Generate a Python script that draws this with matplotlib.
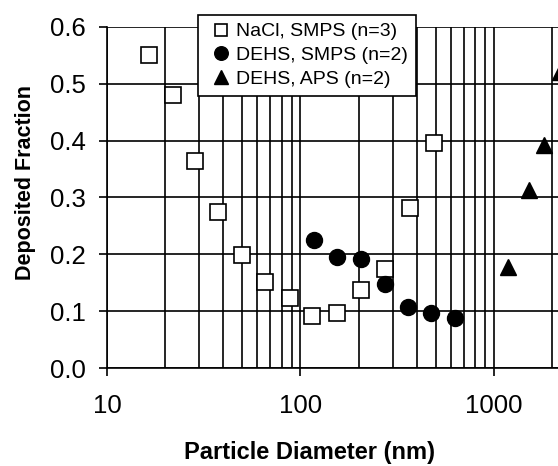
import numpy as np
import matplotlib
matplotlib.use('Agg')
import matplotlib.pyplot as plt
from matplotlib.ticker import FixedLocator, NullFormatter

plt.rcParams['font.family'] = ['Liberation Sans', 'DejaVu Sans']

# NaCl measured with SMPS
nacl_d = [16.5, 22, 28.5, 37.5, 50, 66, 88, 115, 155, 205, 275, 370, 490]
nacl_f = [0.55, 0.48, 0.365, 0.275, 0.198, 0.152, 0.123, 0.091, 0.097, 0.137, 0.175, 0.282, 0.396]

# DEHS measured with SMPS
dehs_smps_d = [118, 155, 205, 275, 360, 473, 630]
dehs_smps_f = [0.226, 0.196, 0.191, 0.148, 0.108, 0.096, 0.088]

# DEHS measured with APS
dehs_aps_d = [1180, 1515, 1830, 2200]
dehs_aps_f = [0.177, 0.314, 0.393, 0.52]

labels = ['NaCl, SMPS (n=3)', 'DEHS, SMPS (n=2)', 'DEHS, APS (n=2)']

fig = plt.figure(figsize=(5.58, 4.66), dpi=100)
ax = fig.add_axes([0.1918, 0.2103, 0.8082, 0.7318])

ax.plot(nacl_d, nacl_f, linestyle='none', marker='s', markersize=11,
        markerfacecolor='white', markeredgecolor='black', markeredgewidth=1.2,
        label=labels[0], zorder=3)
ax.plot(dehs_smps_d, dehs_smps_f, linestyle='none', marker='o', markersize=11.5,
        color='black', label=labels[1], zorder=3)
ax.plot(dehs_aps_d, dehs_aps_f, linestyle='none', marker='^', markersize=12,
        color='black', label=labels[2], zorder=3)

ax.set_xscale('log')
ax.set_xlim(10, 2150)
ax.set_ylim(0, 0.6)

# ticks and grid
minors = [m * 10 ** k for k in (1, 2) for m in range(2, 10)] + [2000]
ax.xaxis.set_major_locator(FixedLocator([10, 100, 1000]))
ax.xaxis.set_major_formatter(plt.FuncFormatter(lambda v, p: '%d' % v))
ax.xaxis.set_minor_locator(FixedLocator(minors))
ax.xaxis.set_minor_formatter(NullFormatter())
ax.set_yticks(np.arange(0, 0.61, 0.1))
ax.yaxis.set_major_formatter(plt.FuncFormatter(lambda v, p: '%.1f' % v))

ax.grid(True, which='both', axis='x', color='black', linewidth=1.2)
ax.grid(True, which='major', axis='y', color='black', linewidth=1.2)
ax.tick_params(axis='x', which='major', direction='out', length=6, width=1.2,
               labelsize=18.5, pad=13)
ax.tick_params(axis='x', which='minor', length=0)
ax.tick_params(axis='y', direction='out', length=6, width=1.2, labelsize=18.5, pad=9)

for s in ['top', 'right']:
    ax.spines[s].set_visible(False)
for s in ['left', 'bottom']:
    ax.spines[s].set_linewidth(1.2)

# axis titles sit off-centre in the original, so place them by hand
ax.set_xlabel('Particle Diameter (nm)', fontsize=17, fontweight='bold')
ax.set_ylabel('Deposited Fraction', fontsize=15.5, fontweight='bold')
ax.xaxis.set_label_coords(0.448, -0.248)
ax.xaxis.label.set_va('center')
ax.yaxis.set_label_coords(-0.18, 0.545)
ax.yaxis.label.set_va('center')

leg = ax.legend(loc='upper left', bbox_to_anchor=(198 / 558, 1 - 15 / 466),
                bbox_transform=fig.transFigure, fontsize=14, frameon=True,
                fancybox=False, shadow=False, framealpha=1, edgecolor='black',
                handlelength=1.55, handletextpad=0.0, labelspacing=0.32,
                borderpad=0.4, borderaxespad=0, markerscale=0.85)
leg.get_frame().set_linewidth(1.2)
leg.set_zorder(5)

fig.savefig('out.png', dpi=100)
